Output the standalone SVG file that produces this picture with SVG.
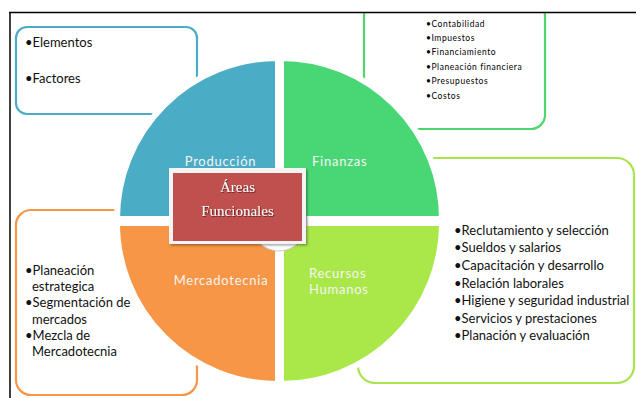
<svg xmlns="http://www.w3.org/2000/svg" width="636" height="398" viewBox="0 0 636 398">
<defs>
<style>
.box{fill:#fff;stroke-width:2.2}
.t{font-family:Lato,"Liberation Sans",sans-serif;fill:#111}
.lab{font-family:Lato,"Liberation Sans",sans-serif;font-size:13px;fill:#f4f4f4;letter-spacing:0.75px}
.q{stroke:#fff;stroke-width:6;stroke-linejoin:miter}
.sm{font-size:8.5px;letter-spacing:0.55px;fill:#000}
.md{font-size:13px}
.ser{font-family:"Liberation Serif","DejaVu Serif",serif;font-size:15px;fill:#fafafa;text-anchor:middle}
</style>
<filter id="sh" x="-10%" y="-10%" width="125%" height="130%">
<feDropShadow dx="1.5" dy="1.5" stdDeviation="1.2" flood-color="#000" flood-opacity="0.35"/>
</filter>
<filter id="tsh" x="-5%" y="-20%" width="110%" height="150%">
<feDropShadow dx="0.8" dy="0.8" stdDeviation="0.3" flood-color="#3a0a0a" flood-opacity="0.8"/>
</filter>
</defs>
<rect width="636" height="398" fill="#fff"/>

<g id="box-produccion">
<rect class="box" x="16" y="27" width="181" height="87" rx="11" stroke="#4BACC6"/>
<text class="t md" x="25" y="47">•Elementos</text>
<text class="t md" x="25" y="83">•Factores</text>
</g>

<g id="box-finanzas">
<rect class="box" x="364" y="2" width="181" height="127" rx="14" stroke="#4FD56E"/>
<rect x="0" y="0" width="636" height="12" fill="#fff"/>
<text class="t sm" x="426" y="27">•Contabilidad</text>
<text class="t sm" x="426" y="41">•Impuestos</text>
<text class="t sm" x="426" y="55">•Financiamiento</text>
<text class="t sm" x="426" y="69.5">•Planeación financiera</text>
<text class="t sm" x="426" y="84">•Presupuestos</text>
<text class="t sm" x="426" y="98.5">•Costos</text>
</g>

<g id="box-mercadotecnia">
<rect class="box" x="16" y="210" width="181" height="185" rx="15" stroke="#F79646"/>
<text class="t md" x="25" y="275">•Planeación</text>
<text class="t md" x="32" y="291">estrategica</text>
<text class="t md" x="25" y="307">•Segmentación de</text>
<text class="t md" x="32" y="323.5">mercados</text>
<text class="t md" x="25" y="340">•Mezcla de</text>
<text class="t md" x="32" y="356">Mercadotecnia</text>
</g>

<g id="box-rrhh">
<rect class="box" x="358" y="158" width="276" height="225" rx="17" stroke="#A8E44C"/>
<text class="t md" x="454" y="235">•Reclutamiento y selección</text>
<text class="t md" x="454" y="252">•Sueldos y salarios</text>
<text class="t md" x="454" y="270">•Capacitación y desarrollo</text>
<text class="t md" x="454" y="287.5">•Relación laborales</text>
<text class="t md" x="454" y="305">•Higiene y seguridad industrial</text>
<text class="t md" x="454" y="322.5">•Servicios y prestaciones</text>
<text class="t md" x="454" y="340">•Planación y evaluación</text>
</g>

<g id="pie">
<g id="q-produccion">
<path class="q" d="M278,219 L117,219 A161,161 0 0 1 278,58 Z" fill="#4BACC6"/>
<text class="lab" x="220.5" y="166" text-anchor="middle">Producción</text>
</g>
<g id="q-finanzas">
<path class="q" d="M281,219 L281,58 A161,161 0 0 1 442,219 Z" fill="#48D774"/>
<text class="lab" x="312" y="166">Finanzas</text>
</g>
<g id="q-mercadotecnia">
<path class="q" d="M278,223 L278,384 A161,161 0 0 1 117,223 Z" fill="#F79646"/>
<text class="lab" x="221" y="285" text-anchor="middle">Mercadotecnia</text>
</g>
<g id="q-rrhh">
<path class="q" d="M281,223 L442,223 A161,161 0 0 1 281,384 Z" fill="#AAE84A"/>
<text class="lab" x="309" y="278">Recursos</text>
<text class="lab" x="309" y="294">Humanos</text>
</g>
</g>

<g id="centro">
<circle cx="279" cy="223" r="28" fill="#fff" stroke="#c8c8c8" stroke-width="1"/>
<rect x="169" y="168" width="137" height="76" fill="#f4f4f4" filter="url(#sh)"/>
<rect x="173" y="173" width="129" height="68" fill="#C0504D"/>
<g filter="url(#tsh)">
<text class="ser" x="237.5" y="192">Áreas</text>
<text class="ser" x="237.5" y="216">Funcionales</text>
</g>
</g>

<g id="frame" stroke="#000" stroke-width="1.5" fill="none">
<line x1="9" y1="12.5" x2="636" y2="12.5"/>
<line x1="10" y1="12" x2="10" y2="398"/>
</g>
</svg>
